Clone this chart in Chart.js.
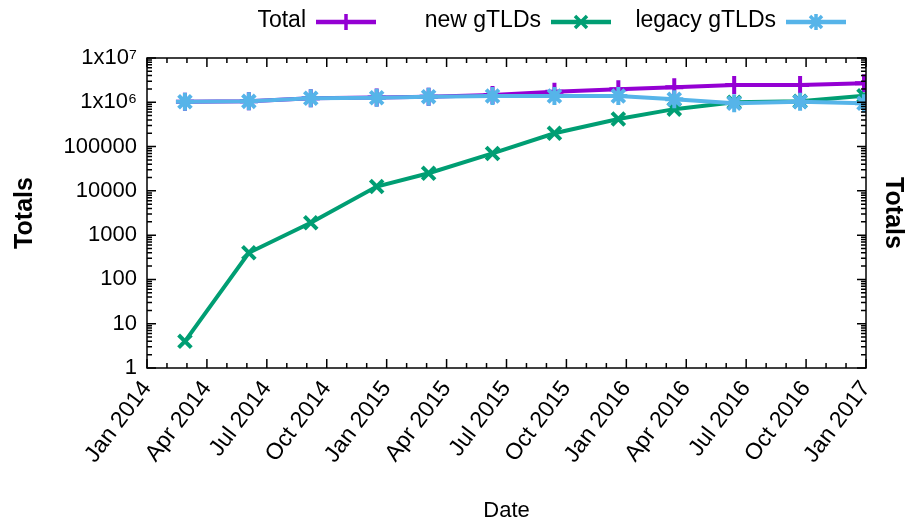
<!DOCTYPE html>
<html>
<head>
<meta charset="utf-8">
<script src="https://cdn.jsdelivr.net/npm/chart.js"></script>
<style>
  html, body { margin: 0; padding: 0; background: #fff; }
  canvas { display: block; }
</style>
</head>
<body>
<canvas id="chart" width="908" height="528"></canvas>
<script>
// months since Jan 2014 for each sample
const monthOffsets = [1.9, 5.1, 8.2, 11.5, 14.1, 17.3, 20.4, 23.6, 26.4, 29.4, 32.7, 35.9];
const totalValues = [1030000, 1050000, 1230000, 1280000, 1340000, 1460000, 1740000, 1960000, 2180000, 2450000, 2450000, 2700000];
const newValues = [4, 400, 1900, 12500, 25000, 70000, 200000, 420000, 700000, 1000000, 1050000, 1400000];
const legacyValues = [1030000, 1050000, 1230000, 1270000, 1340000, 1390000, 1390000, 1390000, 1170000, 950000, 1030000, 950000];
const xTickLabels = ['Jan 2014', 'Apr 2014', 'Jul 2014', 'Oct 2014', 'Jan 2015', 'Apr 2015', 'Jul 2015',
  'Oct 2015', 'Jan 2016', 'Apr 2016', 'Jul 2016', 'Oct 2016', 'Jan 2017'];
const yTickLabels = ['1', '10', '100', '1000', '10000', '100000', '1x10\u2076', '1x10\u2077'];
const seriesNames = ['Total', 'new gTLDs', 'legacy gTLDs'];

const FONT = "'Liberation Sans', Arial, sans-serif";
const colors = ['#9400d3', '#009e73', '#56b4e9'];
const styles = ['cross', 'crossRot', 'star'];

const toPoints = (vals) => vals.map((v, i) => ({ x: monthOffsets[i], y: v }));

// gnuplot-like frame: box border plus inward ticks on all sides
const framePlugin = {
  id: 'frame',
  afterDraw(chart) {
    const { ctx, chartArea: a, scales } = chart;
    ctx.save();
    ctx.strokeStyle = '#000';
    ctx.lineWidth = 1.5;
    ctx.strokeRect(a.left, a.top, a.right - a.left, a.bottom - a.top);
    ctx.beginPath();
    for (let m = 0; m <= 36; m++) {
      const px = scales.x.getPixelForValue(m);
      const len = m % 3 === 0 ? 9 : 5;
      ctx.moveTo(px, a.bottom); ctx.lineTo(px, a.bottom - len);
      ctx.moveTo(px, a.top); ctx.lineTo(px, a.top + len);
    }
    for (let d = 0; d <= 7; d++) {
      for (let k = 1; k <= 9; k++) {
        const v = k * Math.pow(10, d);
        if (v > 1e7) break;
        const py = scales.y.getPixelForValue(v);
        const len = k === 1 ? 9 : 5;
        ctx.moveTo(a.left, py); ctx.lineTo(a.left + len, py);
        ctx.moveTo(a.right, py); ctx.lineTo(a.right - len, py);
      }
    }
    ctx.stroke();
    ctx.restore();
  }
};

function drawMarker(ctx, style, x, y, r) {
  ctx.beginPath();
  if (style === 'cross' || style === 'star') {
    ctx.moveTo(x - r, y); ctx.lineTo(x + r, y);
    ctx.moveTo(x, y - r); ctx.lineTo(x, y + r);
  }
  if (style === 'crossRot' || style === 'star') {
    const d = r * 0.75;
    ctx.moveTo(x - d, y - d); ctx.lineTo(x + d, y + d);
    ctx.moveTo(x - d, y + d); ctx.lineTo(x + d, y - d);
  }
  ctx.stroke();
}

// key in the gnuplot way: text first, then the line sample
const keyPlugin = {
  id: 'key',
  afterDraw(chart) {
    const { ctx } = chart;
    const textRight = [306, 541, 776];
    ctx.save();
    ctx.font = '23px ' + FONT;
    ctx.textAlign = 'right';
    ctx.textBaseline = 'middle';
    seriesNames.forEach((name, i) => {
      const tx = textRight[i];
      ctx.fillStyle = '#000';
      ctx.fillText(name, tx, 21);
      ctx.strokeStyle = colors[i];
      ctx.lineWidth = 4.5;
      ctx.beginPath();
      ctx.moveTo(tx + 10, 22); ctx.lineTo(tx + 70, 22);
      ctx.stroke();
      ctx.lineWidth = 3.5;
      drawMarker(ctx, styles[i], tx + 40, 22, 8);
    });
    ctx.restore();
  }
};

new Chart(document.getElementById('chart'), {
  type: 'line',
  data: {
    datasets: [
      { label: seriesNames[0], data: toPoints(totalValues), order: 2 },
      { label: seriesNames[1], data: toPoints(newValues), order: 1 },
      { label: seriesNames[2], data: toPoints(legacyValues), order: 0 },
    ].map((ds, i) => Object.assign(ds, {
      borderColor: colors[i],
      backgroundColor: colors[i],
      borderWidth: 4,
      pointStyle: styles[i],
      pointRadius: 9,
      pointBorderWidth: 4,
      tension: 0,
      fill: false,
    })),
  },
  options: {
    responsive: false,
    animation: false,
    layout: { padding: { top: 58, left: 0, right: 0, bottom: 0 } },
    plugins: { legend: { display: false }, tooltip: { enabled: false } },
    scales: {
      x: {
        type: 'linear',
        min: 0,
        max: 36,
        afterBuildTicks: (s) => { s.ticks = xTickLabels.map((_, i) => ({ value: i * 3 })); },
        afterFit: (s) => { s.height = 160; },
        grid: { display: false, drawTicks: false },
        border: { display: false },
        ticks: {
          color: '#000',
          font: { family: FONT, size: 23 },
          minRotation: 53,
          maxRotation: 53,
          padding: 8,
          callback: (v) => xTickLabels[Math.round(v / 3)],
        },
        title: { display: true, text: 'Date', color: '#000', font: { family: FONT, size: 22 }, padding: { top: 0, bottom: 4 } },
      },
      y: {
        type: 'logarithmic',
        position: 'left',
        min: 1,
        max: 1e7,
        afterBuildTicks: (s) => { s.ticks = yTickLabels.map((_, i) => ({ value: Math.pow(10, i) })); },
        afterFit: (s) => { s.width = 147; },
        grid: { display: false, drawTicks: false },
        border: { display: false },
        ticks: {
          color: '#000',
          font: { family: FONT, size: 22 },
          padding: 10,
          callback: (v) => yTickLabels[Math.round(Math.log10(v))],
        },
        title: { display: true, text: 'Totals', color: '#000', font: { family: FONT, size: 25, weight: 'bold' }, padding: { top: 10, bottom: 4 } },
      },
      y2: {
        type: 'logarithmic',
        position: 'right',
        min: 1,
        max: 1e7,
        afterFit: (s) => { s.width = 42; },
        grid: { display: false, drawTicks: false },
        border: { display: false },
        ticks: { display: false },
        title: { display: true, text: 'Totals', color: '#000', font: { family: FONT, size: 25, weight: 'bold' }, padding: { top: 0, bottom: 0 } },
      },
    },
  },
  plugins: [framePlugin, keyPlugin],
});
</script>
</body>
</html>
